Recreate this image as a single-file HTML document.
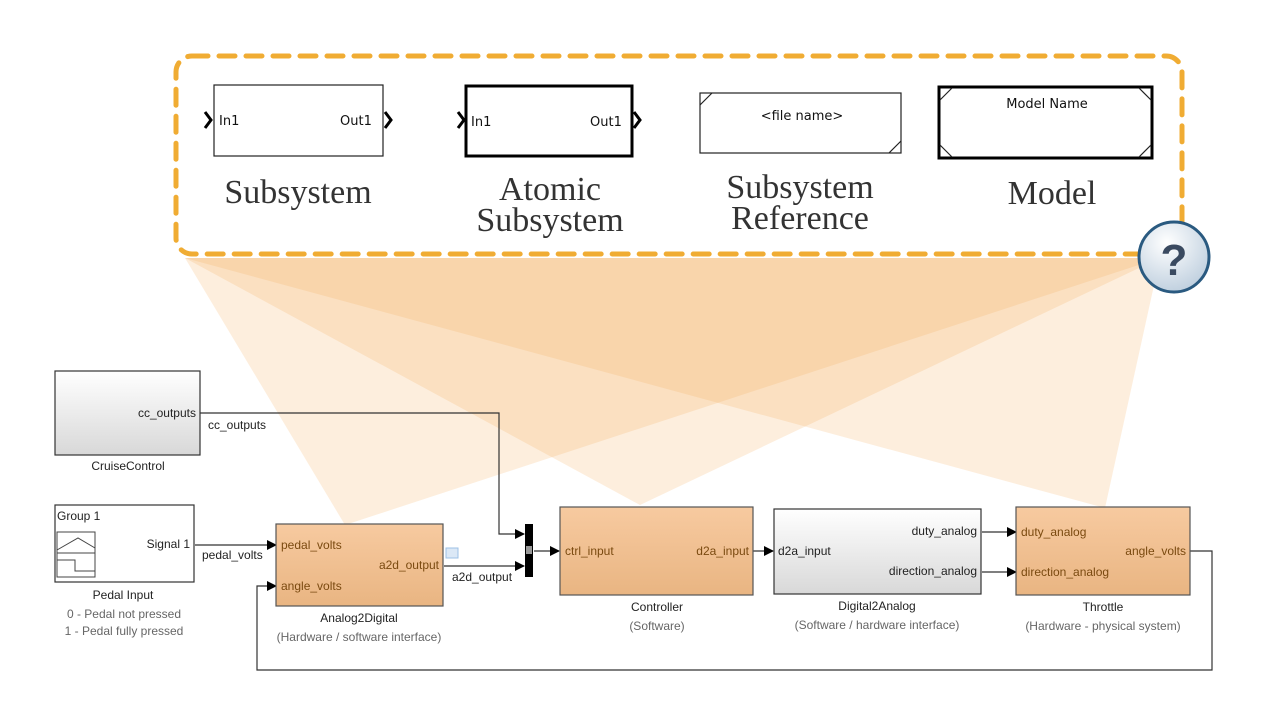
<!DOCTYPE html>
<html><head><meta charset="utf-8"><style>
html,body{margin:0;padding:0;background:#fff;}
svg{display:block;}
.s{font-family:"Liberation Sans",sans-serif;font-size:12px;fill:#222;}
.o{font-family:"Liberation Sans",sans-serif;font-size:12px;fill:#7a4a10;}
.g{font-family:"Liberation Sans",sans-serif;font-size:12px;fill:#666;}
.big{font-family:"Liberation Serif",serif;font-size:34px;fill:#333;}
.sm{font-family:"DejaVu Sans",sans-serif;font-size:13px;fill:#111;}
</style></head><body>
<svg width="1269" height="703" viewBox="0 0 1269 703" xmlns="http://www.w3.org/2000/svg">
<defs>
<linearGradient id="wg" x1="0" y1="0" x2="0" y2="1"><stop offset="0" stop-color="#ffffff"/><stop offset="1" stop-color="#d8d8d8"/></linearGradient>
<linearGradient id="og" x1="0" y1="0" x2="0" y2="1"><stop offset="0" stop-color="#f7caa0"/><stop offset="1" stop-color="#e9b582"/></linearGradient>
<radialGradient id="qg" cx="0.4" cy="0.3" r="0.8"><stop offset="0" stop-color="#ffffff"/><stop offset="1" stop-color="#b8cadb"/></radialGradient>
<marker id="ar" markerWidth="10" markerHeight="10" refX="9" refY="5" orient="auto" markerUnits="userSpaceOnUse"><path d="M0,0 L10,5 L0,10 z" fill="#000"/></marker>
</defs>
<g fill="#f5a955" fill-opacity="0.2">
<polygon points="185,258 1160,258 345,525"/>
<polygon points="185,258 1160,258 640,505"/>
<polygon points="185,258 1160,258 1105,508"/>
</g>
<rect x="176" y="56" width="1006" height="198" rx="16" fill="none" stroke="#f0ac33" stroke-width="5" stroke-dasharray="16,11" stroke-linecap="round"/>
<rect x="214" y="85" width="169" height="71" fill="#fff" stroke="#222" stroke-width="1.2"/>
<path d="M205,112 L211,120 L205,128" fill="none" stroke="#000" stroke-width="3"/>
<path d="M385,112 L391,120 L385,128" fill="none" stroke="#000" stroke-width="3"/>
<text class="sm" x="219" y="125">In1</text><text class="sm" x="340" y="125">Out1</text>
<text class="big" x="298" y="203" text-anchor="middle">Subsystem</text>
<rect x="466" y="86" width="166" height="70" fill="#fff" stroke="#000" stroke-width="3"/>
<path d="M458,112 L464,120 L458,128" fill="none" stroke="#000" stroke-width="3"/>
<path d="M634,112 L640,120 L634,128" fill="none" stroke="#000" stroke-width="3"/>
<text class="sm" x="471" y="126">In1</text><text class="sm" x="590" y="126">Out1</text>
<text class="big" x="550" y="200" text-anchor="middle">Atomic</text>
<text class="big" x="550" y="231" text-anchor="middle">Subsystem</text>
<rect x="700" y="93" width="201" height="60" fill="#fff" stroke="#222" stroke-width="1.2"/>
<path d="M700,105 L712,93 M889,153 L901,141" stroke="#222" stroke-width="1.2"/>
<text class="sm" x="802" y="120" text-anchor="middle">&lt;file name&gt;</text>
<text class="big" x="800" y="198" text-anchor="middle">Subsystem</text>
<text class="big" x="800" y="229" text-anchor="middle">Reference</text>
<rect x="939" y="87" width="213" height="71" fill="#fff" stroke="#000" stroke-width="3"/>
<path d="M940,100 L952,88 M1139,88 L1151,100 M940,145 L952,157 M1139,157 L1151,145" stroke="#222" stroke-width="1.2"/>
<text class="sm" x="1047" y="108" text-anchor="middle">Model Name</text>
<text class="big" x="1052" y="204" text-anchor="middle">Model</text>
<circle cx="1174" cy="257" r="35" fill="url(#qg)" stroke="#2a5a80" stroke-width="3"/>
<text x="1174" y="275" text-anchor="middle" font-family="Liberation Sans,sans-serif" font-weight="bold" font-size="44" fill="#3a4a60">?</text>
<g stroke="#333" stroke-width="1.2" fill="none">
<path d="M198,413 L499,413 L499,534 L524,534" marker-end="url(#ar)"/>
<path d="M195,545 L276,545" marker-end="url(#ar)"/>
<path d="M444,566 L524,566" marker-end="url(#ar)"/>
<path d="M534,551 L559,551" marker-end="url(#ar)"/>
<path d="M753,551 L773,551" marker-end="url(#ar)"/>
<path d="M982,532 L1016,532" marker-end="url(#ar)"/>
<path d="M982,572 L1016,572" marker-end="url(#ar)"/>
<path d="M1190,551 L1212,551 L1212,670 L257,670 L257,586 L276,586" marker-end="url(#ar)"/>
</g>
<rect x="55" y="371" width="145" height="84" fill="url(#wg)" stroke="#333" stroke-width="1.2"/>
<text class="s" x="196" y="417" text-anchor="end">cc_outputs</text>
<text class="s" x="208" y="429">cc_outputs</text>
<text class="s" x="128" y="470" text-anchor="middle">CruiseControl</text>
<rect x="55" y="505" width="139" height="77" fill="#fff" stroke="#333" stroke-width="1.2"/>
<text class="s" x="57" y="520">Group 1</text>
<rect x="57" y="532" width="38" height="45" fill="#fff" stroke="#444"/>
<path d="M57,550 L78,538 L95,548 M57,553 L95,553 M57,560 L75,560 L75,571 L95,571" stroke="#444" fill="none"/>
<text class="s" x="190" y="548" text-anchor="end">Signal 1</text>
<text class="s" x="202" y="559">pedal_volts</text>
<text class="s" x="123" y="599" text-anchor="middle">Pedal Input</text>
<text class="g" x="124" y="618" text-anchor="middle">0 - Pedal not pressed</text>
<text class="g" x="124" y="635" text-anchor="middle">1 - Pedal fully pressed</text>
<rect x="276" y="524" width="167" height="82" fill="url(#og)" stroke="#555" stroke-width="1.2"/>
<text class="o" x="281" y="549">pedal_volts</text>
<text class="o" x="281" y="590">angle_volts</text>
<text class="o" x="439" y="569" text-anchor="end">a2d_output</text>
<rect x="446" y="548" width="12" height="10" fill="#dbe8f6" stroke="#9cc0e6"/>
<text class="s" x="452" y="581">a2d_output</text>
<text class="s" x="359" y="622" text-anchor="middle">Analog2Digital</text>
<text class="g" x="359" y="641" text-anchor="middle">(Hardware / software interface)</text>
<rect x="525" y="524" width="8" height="53" fill="#000"/>
<rect x="526" y="546" width="6" height="8" fill="#fff" opacity="0.6"/>
<rect x="560" y="507" width="193" height="88" fill="url(#og)" stroke="#555" stroke-width="1.2"/>
<text class="o" x="565" y="555">ctrl_input</text>
<text class="o" x="749" y="555" text-anchor="end">d2a_input</text>
<text class="s" x="657" y="611" text-anchor="middle">Controller</text>
<text class="g" x="657" y="630" text-anchor="middle">(Software)</text>
<rect x="774" y="509" width="207" height="85" fill="url(#wg)" stroke="#333" stroke-width="1.2"/>
<text class="s" x="778" y="555">d2a_input</text>
<text class="s" x="977" y="535" text-anchor="end">duty_analog</text>
<text class="s" x="977" y="575" text-anchor="end">direction_analog</text>
<text class="s" x="877" y="610" text-anchor="middle">Digital2Analog</text>
<text class="g" x="877" y="629" text-anchor="middle">(Software / hardware interface)</text>
<rect x="1016" y="507" width="174" height="88" fill="url(#og)" stroke="#555" stroke-width="1.2"/>
<text class="o" x="1021" y="536">duty_analog</text>
<text class="o" x="1021" y="576">direction_analog</text>
<text class="o" x="1186" y="555" text-anchor="end">angle_volts</text>
<text class="s" x="1103" y="611" text-anchor="middle">Throttle</text>
<text class="g" x="1103" y="630" text-anchor="middle">(Hardware - physical system)</text>
</svg>
</body></html>
